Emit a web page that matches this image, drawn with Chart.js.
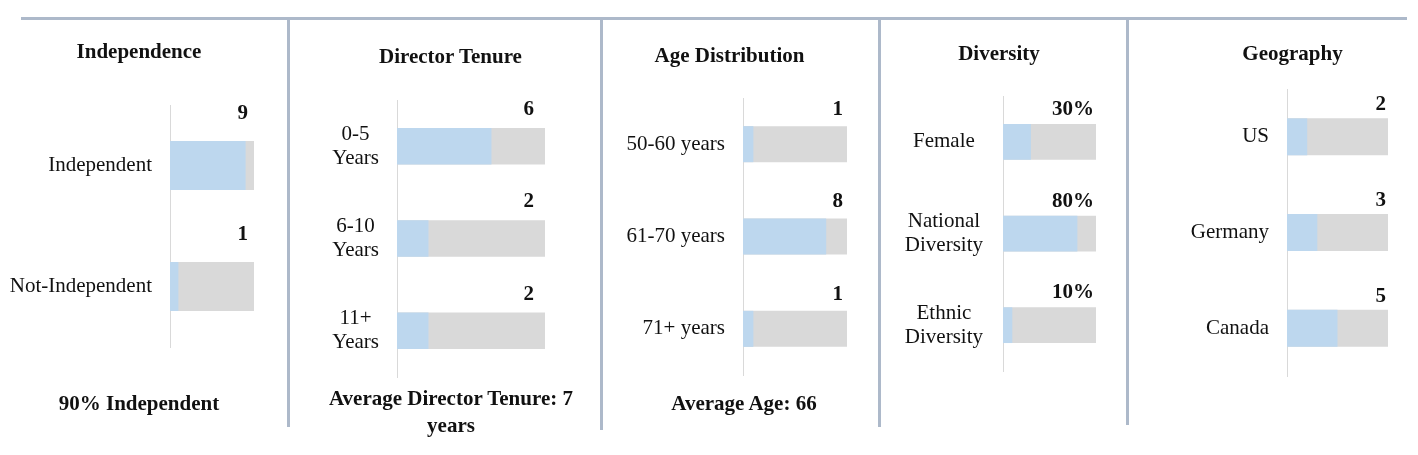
<!DOCTYPE html>
<html>
<head>
<meta charset="utf-8">
<script src="https://cdn.jsdelivr.net/npm/chart.js@4.4.1/dist/chart.umd.min.js"></script>
<style>
html,body{margin:0;padding:0;background:#fff;width:1418px;height:455px;overflow:hidden;}
#wrap{position:relative;width:1418px;height:455px;}
#wrap canvas{position:absolute;top:0;}
.rule{position:absolute;background:#adb9ca;}
.txt{position:absolute;width:340px;font-family:"Liberation Serif","Times New Roman",serif;font-size:21px;line-height:21px;font-weight:bold;color:#111;text-align:center;white-space:nowrap;}
</style>
</head>
<body>
<div id="wrap"></div>
<script>
// ---------- data ----------
const independenceCategories = ['Independent', 'Not-Independent'];
const independenceValues = [9, 1];
const independenceTrack = [10, 10];

const tenureCategories = [['0-5', 'Years'], ['6-10', 'Years'], ['11+', 'Years']];
const tenureValues = [6, 2, 2];
const tenureTrack = [9.4, 9.4, 9.4];

const ageCategories = ['50-60 years', '61-70 years', '71+ years'];
const ageValues = [1, 8, 1];
const ageTrack = [10, 10, 10];

const diversityCategories = ['Female', ['National', 'Diversity'], ['Ethnic', 'Diversity']];
const diversityValues = [30, 80, 10];
const diversityTrack = [100, 100, 100];

const geographyCategories = ['US', 'Germany', 'Canada'];
const geographyValues = [2, 3, 5];
const geographyTrack = [10, 10, 10];

const panelTitles = ['Independence', 'Director Tenure', 'Age Distribution', 'Diversity', 'Geography'];
const panelFooters = [['90% Independent'], ['Average Director Tenure: 7', 'years'], ['Average Age: 66'], [], []];

// ---------- drawing ----------
const wrap = document.getElementById('wrap');
const BLUE = '#bdd7ee', GREY = '#d9d9d9', TEXT = '#111';
const SERIF = "'Liberation Serif', 'Times New Roman', serif";

const valueLabelPlugin = {
  id: 'valueLabels',
  afterDatasetsDraw(chart, args, opts) {
    const valueMeta = chart.getDatasetMeta(0);
    const trackMeta = chart.getDatasetMeta(1);
    const values = chart.data.datasets[0].data;
    const ctx = chart.ctx;
    ctx.save();
    ctx.font = 'bold 21px ' + SERIF;
    ctx.fillStyle = TEXT;
    ctx.textAlign = 'right';
    ctx.textBaseline = 'alphabetic';
    valueMeta.data.forEach((bar, i) => {
      const p = bar.getProps(['y', 'height'], true);
      const t = trackMeta.data[i].getProps(['x'], true);
      ctx.fillText(values[i] + (opts.suffix || ''), t.x - opts.rightOffset, p.y - p.height / 2 - opts.gap);
    });
    ctx.restore();
  }
};

function makePanel(cfg) {
  const canvas = document.createElement('canvas');
  canvas.width = cfg.width;
  canvas.height = 455;
  canvas.style.left = cfg.left + 'px';
  canvas.style.width = cfg.width + 'px';
  canvas.style.height = '455px';
  wrap.appendChild(canvas);
  new Chart(canvas, {
    type: 'bar',
    data: {
      labels: cfg.labels,
      datasets: [
        { data: cfg.values, backgroundColor: BLUE, order: 0, grouped: false,
          barPercentage: cfg.barPct, categoryPercentage: 1, borderWidth: 0 },
        { data: cfg.track, backgroundColor: GREY, order: 1, grouped: false,
          barPercentage: cfg.barPct, categoryPercentage: 1, borderWidth: 0 }
      ]
    },
    options: {
      indexAxis: 'y',
      responsive: false,
      animation: false,
      devicePixelRatio: 1,
      events: [],
      layout: { padding: { left: 0, top: cfg.top, bottom: 455 - cfg.bottom, right: cfg.left + cfg.width - cfg.end } },
      scales: {
        x: { display: false, min: 0, max: Math.max(...cfg.track) },
        y: {
          position: 'left',
          grid: { display: true, drawOnChartArea: false, drawTicks: false, color: 'rgba(0,0,0,0)' },
          border: { display: true, color: GREY, width: 1 },
          ticks: { padding: cfg.pad, crossAlign: cfg.align, color: TEXT, autoSkip: false,
                   font: { family: SERIF, size: 21, lineHeight: 1.15 } },
          afterFit(scale) { scale.width = cfg.axis - cfg.left; }
        }
      },
      plugins: {
        legend: { display: false },
        tooltip: { enabled: false },
        valueLabels: { rightOffset: cfg.offset, gap: cfg.gap, suffix: cfg.suffix || '' }
      }
    },
    plugins: [valueLabelPlugin]
  });
}

makePanel({ labels: independenceCategories, values: independenceValues, track: independenceTrack,
  left: 0, width: 286, axis: 170, end: 254, top: 105, bottom: 347, barPct: 0.405,
  offset: 6, gap: 22, pad: 18, align: 'near' });
makePanel({ labels: tenureCategories, values: tenureValues, track: tenureTrack,
  left: 291, width: 308, axis: 397, end: 545, top: 100, bottom: 377, barPct: 0.395,
  offset: 11, gap: 13, pad: 18, align: 'center' });
makePanel({ labels: ageCategories, values: ageValues, track: ageTrack,
  left: 605, width: 272, axis: 743, end: 847, top: 98, bottom: 375, barPct: 0.39,
  offset: 4, gap: 11, pad: 18, align: 'near' });
makePanel({ labels: diversityCategories, values: diversityValues, track: diversityTrack,
  left: 882, width: 243, axis: 1003, end: 1096, top: 96, bottom: 371, barPct: 0.39,
  offset: 2, gap: 9, pad: 20, align: 'center', suffix: '%' });
makePanel({ labels: geographyCategories, values: geographyValues, track: geographyTrack,
  left: 1130, width: 288, axis: 1287, end: 1388, top: 89, bottom: 376, barPct: 0.386,
  offset: 2, gap: 8, pad: 18, align: 'near' });

// frame rules
function rule(l, t, w, h) {
  const d = document.createElement('div');
  d.className = 'rule';
  d.style.left = l + 'px'; d.style.top = t + 'px'; d.style.width = w + 'px'; d.style.height = h + 'px';
  wrap.appendChild(d);
}
rule(21, 17, 1386, 3);
rule(287, 17, 3, 410);
rule(600, 17, 3, 413);
rule(878, 17, 3, 410);
rule(1126, 17, 3, 408);

// titles and footers
function text(lines, cx, capCenter, lh) {
  const d = document.createElement('div');
  d.className = 'txt';
  d.style.left = (cx - 170) + 'px';
  d.style.top = (capCenter - lh / 2) + 'px';
  d.style.lineHeight = lh + 'px';
  lines.forEach((s, i) => {
    if (i) d.appendChild(document.createElement('br'));
    d.appendChild(document.createTextNode(s));
  });
  wrap.appendChild(d);
}
const titleX = [139, 450.5, 729.5, 999, 1292.5];
const titleY = [51.3, 56, 55.3, 53, 53];
panelTitles.forEach((t, i) => text([t], titleX[i], titleY[i], 21));
const footX = [139, 451, 744, 0, 0];
const footY = [403, 398.5, 403, 0, 0];
panelFooters.forEach((f, i) => { if (f.length) text(f, footX[i], footY[i], f.length > 1 ? 27 : 21); });
</script>
</body>
</html>
